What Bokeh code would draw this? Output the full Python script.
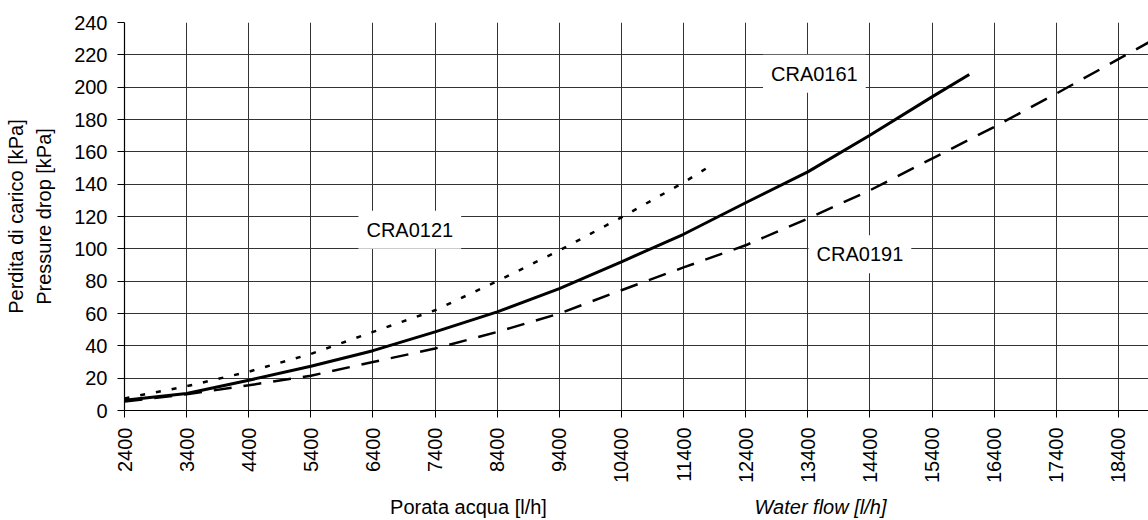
import math
from bokeh.plotting import figure
from bokeh.models import Range1d, FixedTicker, Label, LinearAxis
from bokeh.layouts import column
from bokeh.embed import file_html
from bokeh.resources import INLINE

# ---- data ----
flow_0121 = [2400, 3400, 4400, 5400, 6400, 7400, 8400, 9400, 10400, 11400, 11900]
drop_0121 = [7.5, 15, 24, 35, 48.6, 62, 80, 99, 119.5, 141, 153]

flow_0161 = [2400, 3400, 4400, 5400, 6400, 7400, 8400, 9400, 10400, 11400,
             12400, 13400, 14400, 15400, 16000]
drop_0161 = [6.4, 10.5, 18.7, 27.4, 37, 48.6, 61, 75.4, 92, 109,
             128.5, 147.6, 170.3, 194, 207.8]

flow_0191 = [2400, 3400, 4400, 5400, 6400, 7400, 8400, 9400, 10400, 11400,
             12400, 13400, 14400, 15400, 16400, 17400, 18400, 18900]
drop_0191 = [5.5, 10, 15.6, 21.5, 30, 38.3, 48.6, 60, 74.4, 88.5,
             102.2, 118.7, 136.2, 155.8, 175.4, 196, 217.3, 228]

x_ticks = [2400, 3400, 4400, 5400, 6400, 7400, 8400, 9400, 10400, 11400,
           12400, 13400, 14400, 15400, 16400, 17400, 18400]
y_ticks = [0, 20, 40, 60, 80, 100, 120, 140, 160, 180, 200, 220, 240]

series_names = ["CRA0121", "CRA0161", "CRA0191"]
x_title_it = "Porata acqua [l/h]"
x_title_en = "Water flow [l/h]"
y_title_it = "Perdita di carico [kPa]"
y_title_en = "Pressure drop [kPa]"

FONT = "Liberation Sans"
W = 1148

x_range = Range1d(2400, 18885)

p = figure(width=W, height=490, output_backend="svg", toolbar_location=None,
           x_range=x_range, y_range=Range1d(0, 240),
           min_border_left=124, min_border_right=0, min_border_top=22,
           min_border_bottom=80)
p.outline_line_color = None
p.background_fill_color = "white"
p.border_fill_color = "white"

xt = FixedTicker(ticks=x_ticks)
yt = FixedTicker(ticks=y_ticks)
p.xaxis.ticker = xt
p.yaxis.ticker = yt
p.xgrid.ticker = xt
p.ygrid.ticker = yt
for g in (p.xgrid, p.ygrid):
    g.grid_line_color = "#333333"
    g.grid_line_width = 1

for ax in (p.xaxis, p.yaxis):
    ax.axis_line_color = "black"
    ax.axis_line_width = 1.2
    ax.major_tick_line_color = "black"
    ax.major_tick_out = 7
    ax.major_tick_in = 0
    ax.minor_tick_line_color = None
    ax.major_label_text_font = FONT
    ax.major_label_text_font_size = "20px"
    ax.major_label_text_color = "black"

p.xaxis.major_label_orientation = math.pi / 2
p.xaxis.major_label_standoff = 10
p.yaxis.major_label_standoff = 10

# y titles: inner line on the main axis, outer line on an extra label-only axis
p.yaxis.axis_label = y_title_en
p.yaxis.axis_label_text_font = FONT
p.yaxis.axis_label_text_font_size = "20px"
p.yaxis.axis_label_text_font_style = "normal"
p.yaxis.axis_label_text_color = "black"
p.yaxis.axis_label_standoff = 16

outer = LinearAxis(ticker=FixedTicker(ticks=[]), axis_line_color=None,
                   major_tick_line_color=None, minor_tick_line_color=None,
                   major_tick_out=0, major_tick_in=0, major_label_standoff=0,
                   axis_label=y_title_it, axis_label_text_font=FONT,
                   axis_label_text_font_size="20px", axis_label_text_font_style="normal",
                   axis_label_text_color="black", axis_label_standoff=4)
p.add_layout(outer, "left")

p.line(flow_0121, drop_0121, line_color="black", line_width=2.5, line_dash="5 11")
p.line(flow_0161, drop_0161, line_color="black", line_width=3)
p.line(flow_0191, drop_0191, line_color="black", line_width=2.5, line_dash="18 12")

for name, (lx, ly) in zip(series_names, [(6993, 111.8), (13506, 208.3), (14239, 96.7)]):
    p.add_layout(Label(x=lx, y=ly, text=name, text_align="center", text_baseline="middle",
                       text_font=FONT, text_font_size="20px", text_color="black",
                       background_fill_color="white", padding=8))

# x titles in a thin strip below, sharing the x range
p2 = figure(width=W, height=30, output_backend="svg", toolbar_location=None,
            x_range=x_range, y_range=Range1d(0, 1),
            x_axis_location=None, y_axis_location=None,
            min_border_left=124, min_border_right=0, min_border_top=0,
            min_border_bottom=0)
p2.outline_line_color = None
p2.grid.visible = False
p2.background_fill_color = "white"
p2.border_fill_color = "white"

p2.add_layout(Label(x=7938, y=0.45, text=x_title_it, text_align="center",
                    text_baseline="middle", text_font=FONT, text_font_size="20px",
                    text_color="black"))
p2.add_layout(Label(x=13605, y=0.45, text=x_title_en, text_align="center",
                    text_baseline="middle", text_font=FONT, text_font_size="20px",
                    text_font_style="italic", text_color="black"))

open("out.html", "w").write(file_html(column(p, p2), INLINE))
